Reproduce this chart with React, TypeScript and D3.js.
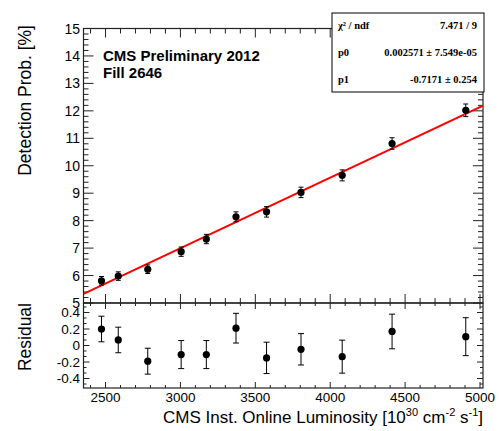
import React, { useEffect, useRef } from "react";
import * as d3 from "d3";

// values
const lumi = [2473, 2585, 2782, 3005, 3173, 3371, 3575, 3805, 4080, 4413, 4905];
const prob = [5.81, 5.98, 6.23, 6.87, 7.33, 8.14, 8.32, 9.03, 9.65, 10.81, 12.02];
const probErr = [0.155, 0.155, 0.157, 0.17, 0.17, 0.18, 0.19, 0.19, 0.2, 0.21, 0.23];
const resid = [0.2, 0.067, -0.19, -0.11, -0.11, 0.21, -0.15, -0.046, -0.135, 0.17, 0.107];
const residErr = [0.155, 0.155, 0.157, 0.17, 0.17, 0.18, 0.19, 0.19, 0.2, 0.21, 0.23];

const fitSlope = 0.002571;
const fitIntercept = -0.7171;

const xTicks = [2500, 3000, 3500, 4000, 4500, 5000];
const yTopTicks = [5, 6, 7, 8, 9, 10, 11, 12, 13, 14, 15];
const yResTicks = [-0.4, -0.2, 0, 0.2, 0.4];

const statRows = [
  ["χ² / ndf", "7.471 / 9"],
  ["p0", "0.002571 ± 7.549e-05"],
  ["p1", "-0.7171 ± 0.254"],
];

const SANS = "'Liberation Sans', Arial, sans-serif";
const SERIF = "'Liberation Serif', 'Times New Roman', serif";

export default function App() {
  const svgRef = useRef<SVGSVGElement>(null);

  useEffect(() => {
    const svg = d3.select(svgRef.current);
    svg.selectAll("*").remove();

    const L = 83.5, R = 483;
    const x = d3.scaleLinear().domain([2353, 5020]).range([L, R]);
    const yTop = d3.scaleLinear().domain([5, 15]).range([303, 28.5]);
    const yRes = d3.scaleLinear().domain([-0.515, 0.515]).range([388, 303]);
    const axisColor = "#222";

    const g = svg.append("g");

    // minor / major tick helper
    const vTicks = (scale, x0, dir, majors, minorStep, lenMaj, lenMin) => {
      const [d0, d1] = scale.domain();
      const minors = d3.range(Math.ceil(d0 / minorStep - 1e-6), Math.floor(d1 / minorStep + 1e-6) + 1).map((k) => k * minorStep);
      minors.forEach((v) => {
        const isMaj = majors.some((m) => Math.abs(m - v) < minorStep / 10);
        const len = isMaj ? lenMaj : lenMin;
        g.append("line").attr("x1", x0).attr("x2", x0 + dir * len)
          .attr("y1", scale(v)).attr("y2", scale(v)).attr("stroke", axisColor).attr("stroke-width", 1);
      });
    };
    const hTicks = (y0, dir, lenMaj, lenMin) => {
      d3.range(2400, 5001, 100).forEach((v) => {
        const len = v % 500 === 0 ? lenMaj : lenMin;
        g.append("line").attr("x1", x(v)).attr("x2", x(v))
          .attr("y1", y0).attr("y2", y0 + dir * len).attr("stroke", axisColor).attr("stroke-width", 1);
      });
    };

    // frames
    g.append("rect").attr("x", L).attr("y", 28.5).attr("width", R - L).attr("height", 303 - 28.5)
      .attr("fill", "none").attr("stroke", axisColor).attr("stroke-width", 1.2);
    g.append("rect").attr("x", L).attr("y", 303).attr("width", R - L).attr("height", 388 - 303)
      .attr("fill", "none").attr("stroke", axisColor).attr("stroke-width", 1.2);

    // top panel ticks
    vTicks(yTop, L, 1, yTopTicks, 0.2, 10, 5);
    vTicks(yTop, R, -1, yTopTicks, 0.2, 10, 5);
    hTicks(303, -1, 9, 5);
    hTicks(28.5, 1, 9, 5);

    // residual panel ticks
    vTicks(yRes, L, 1, yResTicks, 0.2 / 3, 6, 3);
    vTicks(yRes, R, -1, yResTicks, 0.2 / 3, 6, 3);
    hTicks(388, -1, 6, 3);
    hTicks(303, 1, 6, 3);

    // tick labels
    g.selectAll(".ylab").data(yTopTicks).enter().append("text")
      .attr("x", 80).attr("y", (d) => yTop(d)).attr("dy", "0.36em")
      .attr("text-anchor", "end").attr("font-family", SANS).attr("font-size", 14)
      .text((d) => d);
    g.selectAll(".rlab").data(yResTicks).enter().append("text")
      .attr("x", 80).attr("y", (d) => yRes(d)).attr("dy", "0.36em")
      .attr("text-anchor", "end").attr("font-family", SANS).attr("font-size", 13.5)
      .attr("fill", "#000").attr("stroke", "#fff").attr("stroke-width", 0).text((d) => d);
    g.selectAll(".xlab").data(xTicks).enter().append("text")
      .attr("x", (d) => x(d)).attr("y", 402)
      .attr("text-anchor", "middle").attr("font-family", SANS).attr("font-size", 13.5)
      .text((d) => d);

    // axis titles
    g.append("text").attr("transform", "translate(31,25) rotate(-90)")
      .attr("text-anchor", "end").attr("font-family", SANS).attr("font-size", 17.5)
      .text("Detection Prob. [%]");
    g.append("text").attr("transform", "translate(31,303) rotate(-90)")
      .attr("text-anchor", "end").attr("font-family", SANS).attr("font-size", 17.5)
      .text("Residual");
    const xt = g.append("text").attr("x", R).attr("y", 423)
      .attr("text-anchor", "end").attr("font-family", SANS).attr("font-size", 17);
    xt.append("tspan").text("CMS Inst. Online Luminosity [10");
    xt.append("tspan").attr("dy", -7).attr("font-size", 11).text("30");
    xt.append("tspan").attr("dy", 7).text(" cm");
    xt.append("tspan").attr("dy", -7).attr("font-size", 11).text("-2");
    xt.append("tspan").attr("dy", 7).text(" s");
    xt.append("tspan").attr("dy", -7).attr("font-size", 11).text("-1");
    xt.append("tspan").attr("dy", 7).text("]");

    // label text
    g.append("text").attr("x", 103).attr("y", 61).attr("font-family", SANS)
      .attr("font-weight", "bold").attr("font-size", 15).text("CMS Preliminary 2012");
    g.append("text").attr("x", 103).attr("y", 78).attr("font-family", SANS)
      .attr("font-weight", "bold").attr("font-size", 15).text("Fill 2646");

    // fit line
    const clip = svg.append("clipPath").attr("id", "topclip");
    clip.append("rect").attr("x", L).attr("y", 28.5).attr("width", R - L).attr("height", 303 - 28.5);
    const xd = x.domain();
    g.append("line").attr("clip-path", "url(#topclip)")
      .attr("x1", x(xd[0])).attr("y1", yTop(fitSlope * xd[0] + fitIntercept))
      .attr("x2", x(xd[1])).attr("y2", yTop(fitSlope * xd[1] + fitIntercept))
      .attr("stroke", "#ff0000").attr("stroke-width", 2);

    // error bars + points
    const drawPoints = (ys, errs, yScale, cap) => {
      lumi.forEach((lx, i) => {
        const cx = x(lx);
        const y1 = yScale(ys[i] - errs[i]);
        const y2 = yScale(ys[i] + errs[i]);
        g.append("line").attr("x1", cx).attr("x2", cx).attr("y1", y1).attr("y2", y2)
          .attr("stroke", "#000").attr("stroke-width", 1);
        [y1, y2].forEach((yy) => g.append("line").attr("x1", cx - cap).attr("x2", cx + cap)
          .attr("y1", yy).attr("y2", yy).attr("stroke", "#000").attr("stroke-width", 1));
        g.append("circle").attr("cx", cx).attr("cy", yScale(ys[i])).attr("r", 3.6).attr("fill", "#000");
      });
    };
    drawPoints(prob, probErr, yTop, 2.5);
    drawPoints(resid, residErr, yRes, 3);

    // stats box
    const sb = g.append("g");
    sb.append("rect").attr("x", 332).attr("y", 13).attr("width", 152).attr("height", 79)
      .attr("fill", "#fff").attr("stroke", "#000").attr("stroke-width", 1);
    statRows.forEach(([k, v], i) => {
      const yy = 29 + i * 27;
      sb.append("text").attr("x", 338).attr("y", yy).attr("font-family", SERIF)
        .attr("font-weight", "bold").attr("font-size", 10.5).text(k);
      sb.append("text").attr("x", 477).attr("y", yy).attr("text-anchor", "end").attr("font-family", SERIF)
        .attr("font-weight", "bold").attr("font-size", 10.5).text(v);
    });
  }, []);

  return (
    <svg ref={svgRef} width={499} height={431}
      style={{ position: "absolute", left: 0, top: 0, background: "#fff" }} />
  );
}
